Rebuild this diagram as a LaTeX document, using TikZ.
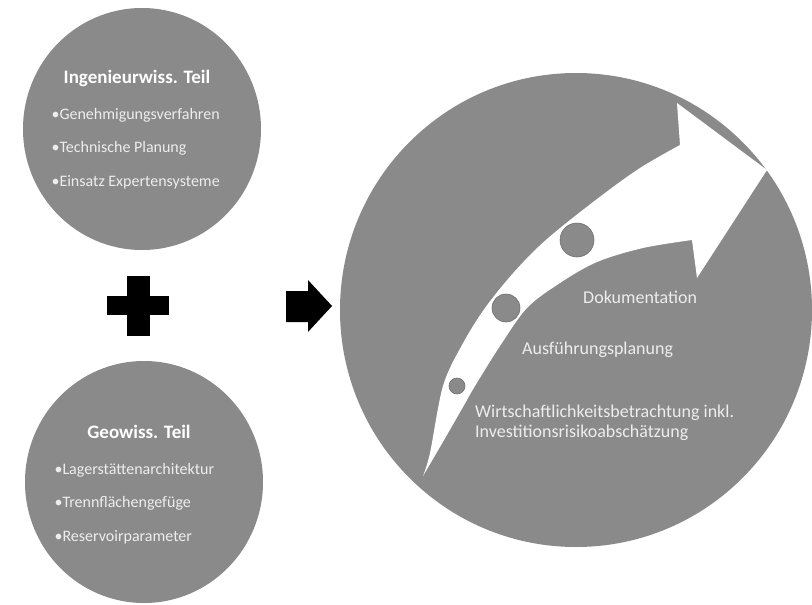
\documentclass[tikz,border=0pt]{standalone}
\usepackage{fontspec}
\setmainfont{Carlito}
\usetikzlibrary{shapes.geometric}
\begin{document}
\begin{tikzpicture}[x=1pt,y=-1pt,
  disc/.style={ellipse, fill=discgrey, draw=none, inner sep=0pt},
  ttl/.style={text=white, font=\fontsize{19}{22}\selectfont\bfseries, anchor=center},
  blt/.style={text=textgrey, font=\fontsize{16}{19}\selectfont, anchor=west},
  lbl/.style={text=textgrey, font=\fontsize{18}{20}\selectfont, anchor=west, align=left, inner sep=0pt},
  dot/.style={circle, fill=discgrey, draw=dotedge, line width=0.6pt, inner sep=0pt}]
\definecolor{discgrey}{HTML}{8A8A8A}
\definecolor{textgrey}{HTML}{EDEDED}
\definecolor{dotedge}{HTML}{707070}
\useasboundingbox (0,0) rectangle (812,605);
\fill[white] (0,0) rectangle (812,605);
% left discs
\node[disc, minimum width=238pt, minimum height=242pt] (top) at (142,129) {};
\node[disc, minimum width=238pt, minimum height=242pt] (bot) at (144,482) {};
% right disc
\node[disc, minimum width=472pt, minimum height=474pt] (big) at (576,310) {};
% top texts
\node[ttl] (t1) at (137,78) {Ingenieurwiss. Teil};
\node[blt] (t1a) at (48,115) {•Genehmigungsverfahren};
\node[blt] (t1b) at (48,148) {•Technische Planung};
\node[blt] (t1c) at (48,182) {•Einsatz Expertensysteme};
% bottom texts
\node[ttl] (t2) at (139,432) {Geowiss. Teil};
\node[blt] (t2a) at (51,470) {•Lagerstättenarchitektur};
\node[blt] (t2b) at (51,503) {•Trennflächengefüge};
\node[blt] (t2c) at (51,537) {•Reservoirparameter};
% plus
\fill[black] (127,276) rectangle (150,336);
\fill[black] (107,296) rectangle (169,315);
% small arrow
\fill[black] (286,291) -- (308,291) -- (308,280) -- (332,306) -- (308,332) -- (308,322) -- (286,322) -- cycle;
% big curved arrow
\fill[white] plot[smooth, tension=0.55] coordinates {(423,476) (430,453) (443,386) (462,345) (485,308) (515,271) (547,239) (597,199) (640,168) (680,145)}
  -- (677,103) -- (767,170) -- (697,278) -- (692,240)
  -- plot[smooth, tension=0.55] coordinates {(692,240) (643,248) (597,262) (560,283) (527,308) (500,346) (475,386) (463,407) (440,447) (423,476)} -- cycle;
% dots on arrow
\node[dot, minimum size=34pt] (d1) at (577,240) {};
\node[dot, minimum size=28pt] (d2) at (506,308) {};
\node[dot, minimum size=16pt] (d3) at (457,386) {};
% labels
\node[lbl] (l1) at (583,297) {Dokumentation};
\node[lbl] (l2) at (522,350) {Ausführungsplanung};
\node[lbl] (l3) at (475,423) {Wirtschaftlichkeitsbetrachtung inkl.\\Investitionsrisikoabschätzung};
\end{tikzpicture}
\end{document}
